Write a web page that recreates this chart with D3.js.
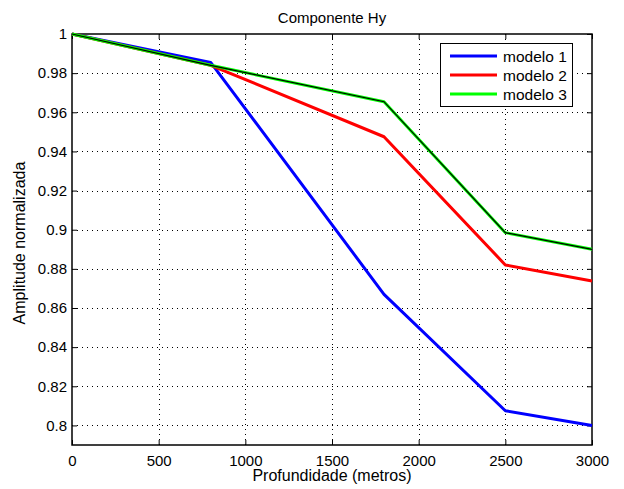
<!DOCTYPE html>
<html><head><meta charset="utf-8">
<script src="https://cdn.jsdelivr.net/npm/d3@7"></script>
<style>body{margin:0;background:#fff}svg{display:block}text{font-family:"Liberation Sans",Arial,sans-serif;fill:#000}</style>
</head><body><svg id="c" width="624" height="489"></svg>
<script>
const depths = [0, 800, 1800, 2500, 3000];
const modelo1 = [1.0, 0.9855, 0.867, 0.8075, 0.800];
const modelo2 = [1.0, 0.984, 0.9475, 0.882, 0.8738];
const modelo3 = [1.0, 0.984, 0.9654, 0.8985, 0.890];
const seriesNames = ["modelo 1", "modelo 2", "modelo 3"];
const seriesColors = ["#0000ff", "#ff0000", "#00ff00"];
const xTicks = [0, 500, 1000, 1500, 2000, 2500, 3000];
const yTicks = [0.8, 0.82, 0.84, 0.86, 0.88, 0.9, 0.92, 0.94, 0.96, 0.98, 1];

const svg = d3.select("#c");
const L = 72, R = 592, T = 34, B = 445;
const x = d3.scaleLinear().domain([0, 3000]).range([L, R]);
const y = d3.scaleLinear().domain([0.79, 1]).range([B, T]);

// grid
const g = svg.append("g");
g.selectAll(".gx").data(xTicks.slice(1, -1)).enter().append("line")
  .attr("x1", d => Math.round(x(d)) + 0.5).attr("x2", d => Math.round(x(d)) + 0.5).attr("y1", T).attr("y2", B)
  .attr("stroke", "#000").attr("stroke-width", 1).attr("stroke-dasharray", "1,4");
g.selectAll(".gy").data(yTicks.slice(0, -1)).enter().append("line")
  .attr("y1", d => Math.round(y(d)) + 0.5).attr("y2", d => Math.round(y(d)) + 0.5).attr("x1", L).attr("x2", R)
  .attr("stroke", "#000").attr("stroke-width", 1).attr("stroke-dasharray", "1,4");

// axes
const fmtY = d => d3.format("")(+d.toFixed(2));
const ax = svg.append("g").attr("transform", `translate(0,${B})`)
  .call(d3.axisBottom(x).tickValues(xTicks).tickSize(-5).tickPadding(10).tickFormat(d3.format("d")));
const ay = svg.append("g").attr("transform", `translate(${L},0)`)
  .call(d3.axisLeft(y).tickValues(yTicks).tickSize(-5).tickPadding(5).tickFormat(fmtY));
const axT = svg.append("g").attr("transform", `translate(0,${T})`)
  .call(d3.axisTop(x).tickValues(xTicks).tickSize(-5).tickFormat(""));
const ayR = svg.append("g").attr("transform", `translate(${R},0)`)
  .call(d3.axisRight(y).tickValues(yTicks).tickSize(-5).tickFormat(""));
[ax, ay, axT, ayR].forEach(a => {
  a.selectAll("path").remove();
  a.selectAll("line").attr("stroke", "#000");
  a.selectAll("text").style("font-size", "15px").style("font-family", '"Liberation Sans",Arial,sans-serif').attr("fill", "#000");
});
svg.append("rect").attr("x", L).attr("y", T).attr("width", R - L).attr("height", B - T)
  .attr("fill", "none").attr("stroke", "#000").attr("stroke-width", 1.5);

// lines
const line = d3.line().x((d, i) => x(depths[i])).y(d => y(d));
const data = [modelo1, modelo2, modelo3];
data.forEach((s, i) => {
  svg.append("path").datum(s).attr("d", line).attr("fill", "none")
    .attr("stroke", seriesColors[i]).attr("stroke-width", 3).attr("stroke-linejoin", "round");
});
svg.append("path").datum(modelo3).attr("d", line).attr("fill", "none")
  .attr("stroke", "#000").attr("stroke-width", 1.2);

// legend
const lg = svg.append("g");
lg.append("rect").attr("x", 440.5).attr("y", 43.5).attr("width", 132).attr("height", 63)
  .attr("fill", "#fff").attr("stroke", "#000").attr("stroke-width", 1);
seriesNames.forEach((n, i) => {
  const yy = 56 + i * 19;
  lg.append("line").attr("x1", 450).attr("x2", 497).attr("y1", yy).attr("y2", yy)
    .attr("stroke", seriesColors[i]).attr("stroke-width", 3);
  lg.append("text").attr("x", 503).attr("y", yy + 5.5).style("font-size", "15.5px").text(n);
});

// titles
svg.append("text").attr("x", 332).attr("y", 22.5).attr("text-anchor", "middle").style("font-size", "15px").text("Componente Hy");
svg.append("text").attr("x", 332).attr("y", 481).attr("text-anchor", "middle").style("font-size", "16px").text("Profundidade (metros)");
svg.append("text").attr("transform", "translate(25,243) rotate(-90)").attr("text-anchor", "middle").style("font-size", "16px").text("Amplitude normalizada");
</script></body></html>
